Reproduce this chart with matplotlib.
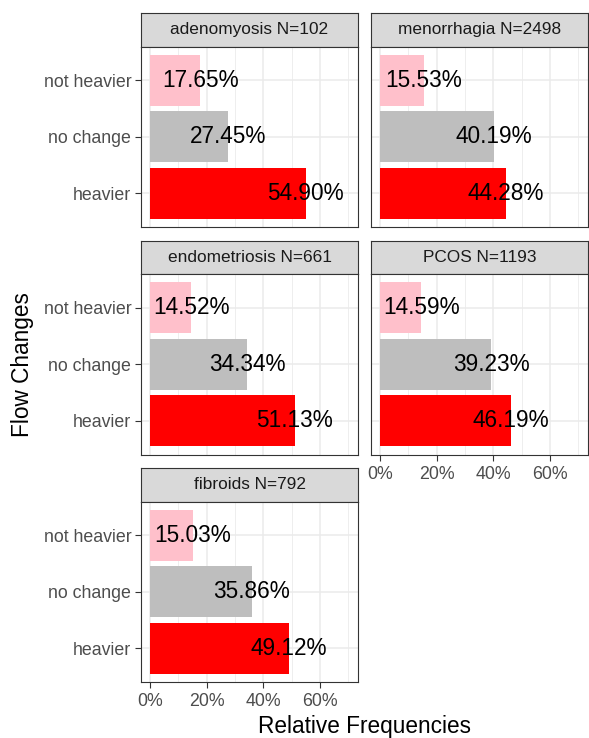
import numpy as np
import matplotlib.pyplot as plt
from matplotlib.ticker import FuncFormatter, MultipleLocator

plt.rcParams['font.family'] = ['Liberation Sans', 'DejaVu Sans']

# data (percent of responses per flow-change category)
categories = ['heavier', 'no change', 'not heavier']
bar_colors = ['#FF0000', '#BEBEBE', '#FFC0CB']

conditions = ['adenomyosis', 'menorrhagia', 'endometriosis', 'PCOS', 'fibroids']
sample_sizes = [102, 2498, 661, 1193, 792]

adenomyosis = [54.90, 27.45, 17.65]
menorrhagia = [44.28, 40.19, 15.53]
endometriosis = [51.13, 34.34, 14.52]
pcos = [46.19, 39.23, 14.59]
fibroids = [49.12, 35.86, 15.03]
values = [adenomyosis, menorrhagia, endometriosis, pcos, fibroids]

x_ticks = [0, 20, 40, 60]

W, H = 589, 738
fig = plt.figure(figsize=(W / 100, H / 100), dpi=100)


def px_axes(x0, y0, w, h):
    # pixel box (top-left origin) -> figure axes
    return fig.add_axes([x0 / W, 1 - (y0 + h) / H, w / W, h / H])


col_x = [141, 371]
row_top = [13, 240.5, 468]
panel_w = 217
strip_h = 33.5
panel_h = 180.5
border = '#333333'

for i, cond in enumerate(conditions):
    row, col = i // 2, i % 2
    x0 = col_x[col]
    y0 = row_top[row]

    # strip
    sax = px_axes(x0, y0, panel_w, strip_h)
    sax.set_facecolor('#D9D9D9')
    sax.set_xticks([])
    sax.set_yticks([])
    for s in sax.spines.values():
        s.set_color(border)
        s.set_linewidth(0.8)
    sax.text(0.5, 0.5, f'{cond} N={sample_sizes[i]}', ha='center', va='center',
             fontsize=12.4, color='#1A1A1A', transform=sax.transAxes)

    # panel
    ax = px_axes(x0, y0 + strip_h, panel_w, panel_h)
    ypos = np.arange(1, len(categories) + 1)
    ax.barh(ypos, values[i], height=0.9, color=bar_colors, zorder=2)
    for y, v in zip(ypos, values[i]):
        ax.text(v, y, f'{v:.2f}%', ha='center', va='center', fontsize=16.3,
                color='black', zorder=3)

    ax.set_xlim(-3.2, 73.4)
    ax.set_ylim(0.4, 3.6)
    ax.set_xticks(x_ticks)
    ax.xaxis.set_minor_locator(MultipleLocator(10))
    ax.xaxis.set_major_formatter(FuncFormatter(lambda v, p: f'{v:.0f}%'))
    ax.set_yticks(ypos)
    ax.set_yticklabels(categories)
    ax.grid(which='major', color='#EBEBEB', linewidth=1.1, zorder=0)
    ax.grid(which='minor', axis='x', color='#EBEBEB', linewidth=0.6, zorder=0)
    ax.set_axisbelow(True)
    ax.tick_params(which='minor', length=0)
    ax.tick_params(which='major', length=4, width=0.8, color=border,
                   labelcolor='#4D4D4D', labelsize=12.8)
    ax.tick_params(axis='x', pad=4)
    ax.tick_params(axis='y', pad=3)
    for s in ax.spines.values():
        s.set_color(border)
        s.set_linewidth(0.8)

    if col == 1:
        ax.tick_params(axis='y', left=False, labelleft=False)
    if i not in (3, 4):
        ax.tick_params(axis='x', bottom=False, labelbottom=False)

fig.text(364.5 / W, 1 - 727 / H, 'Relative Frequencies', ha='center', va='center',
         fontsize=16.3, color='black')
fig.text(22 / W, 1 - 365 / H, 'Flow Changes', ha='center', va='center',
         rotation=90, fontsize=16.3, color='black')

fig.savefig('out.png', dpi=100)
